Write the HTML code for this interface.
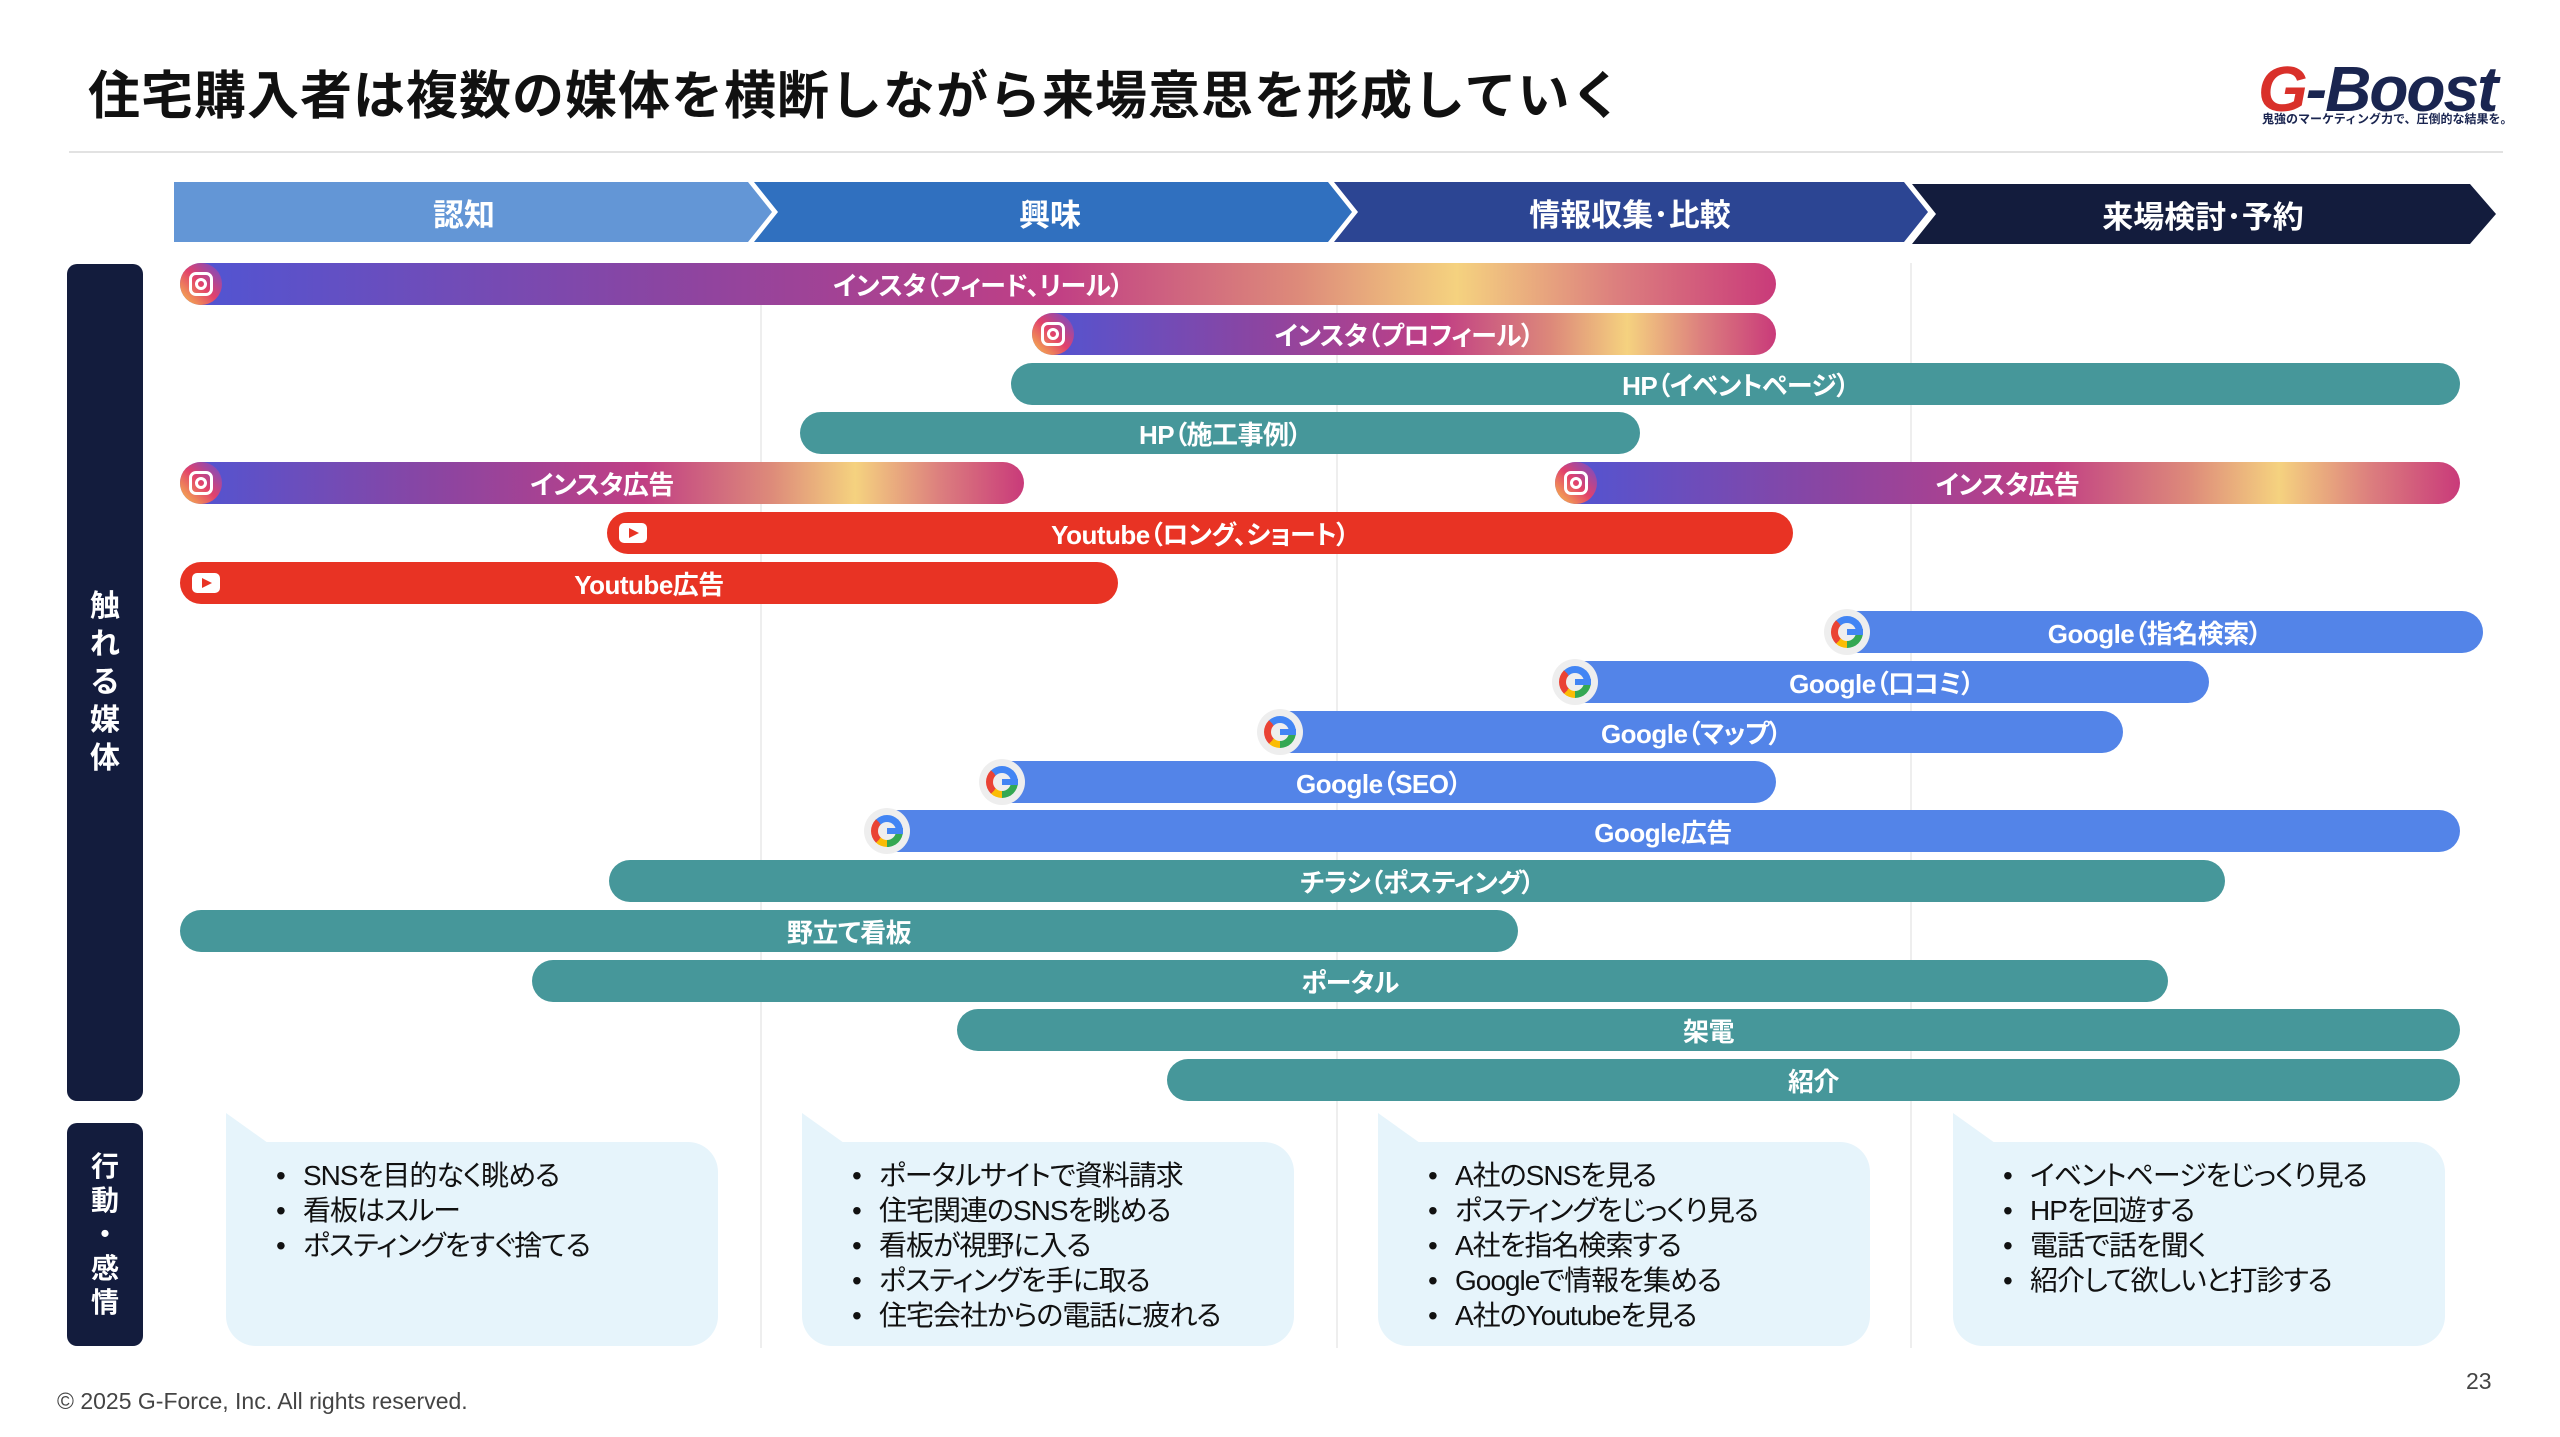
<!DOCTYPE html>
<html><head><meta charset="utf-8"><style>
*{margin:0;padding:0;box-sizing:border-box}
body{width:2560px;height:1437px;background:#fff;position:relative;overflow:hidden;font-family:"Liberation Sans","Noto Sans CJK JP",sans-serif}
.a{position:absolute}
.title{left:88px;top:54px;font-size:52px;font-weight:bold;color:#111;white-space:nowrap;letter-spacing:1px}
.bar{position:absolute;height:42px;border-radius:21px;color:#fff;font-weight:bold;font-size:26px;display:flex;align-items:center;justify-content:center;white-space:nowrap;font-feature-settings:"palt";letter-spacing:-0.5px}
.teal{background:#46979a}
.red{background:#e83324}
.gb{background:#5384e8}
.ig{background:linear-gradient(90deg,#4f55d4 0%,#8a45a2 30%,#c13f84 55%,#dd8a7a 70%,#f5d27f 80%,#dc7f7e 90%,#c93a7a 100%)}
.igi{position:absolute;left:0;top:0;width:42px;height:42px;border-radius:21px;background:linear-gradient(45deg,#f9c34b,#e2416b 50%,#6a4fd0)}
.igi:after{content:"";position:absolute;left:9px;top:9px;width:24px;height:24px;border:3px solid #fff;border-radius:7px;box-sizing:border-box}
.igi:before{content:"";position:absolute;left:15px;top:15px;width:12px;height:12px;border:3px solid #fff;border-radius:50%;box-sizing:border-box;z-index:2}
.yti{position:absolute;left:12px;top:11px;width:28px;height:20px;background:#fff;border-radius:5px}
.yti:after{content:"";position:absolute;left:10px;top:5px;border-left:10px solid #e83324;border-top:5px solid transparent;border-bottom:5px solid transparent}
.gi{position:absolute;left:-2px;top:-2px;width:46px;height:46px;border-radius:50%;background:#eee}
.gi i{position:absolute;left:7px;top:7px;width:32px;height:32px;border-radius:50%;background:conic-gradient(#4285f4 0 25%,#34a853 25% 50%,#fbbc05 50% 62%,#ea4335 62% 88%,#4285f4 88%)}
.gi i:after{content:"";position:absolute;left:7px;top:7px;width:18px;height:18px;border-radius:50%;background:#eee}
.gi b{position:absolute;left:23px;top:20px;width:16px;height:6px;background:#4285f4;z-index:2}
.div{position:absolute;top:263px;width:2px;height:1085px;background:#eeeeee}
.box{position:absolute;top:1142px;width:492px;height:204px;background:#e6f4fb;border-radius:0 30px 30px 30px}
.tail{position:absolute;top:1113px;width:0;height:0;border-left:42px solid #e6f4fb;border-top:30px solid transparent}
.box ul{list-style:none;position:absolute;left:50px;top:16px;font-size:28px;line-height:35px;color:#111;font-feature-settings:"palt";letter-spacing:-1px}
.box li:before{content:"•";display:inline-block;width:27px}
.lbl{position:absolute;left:67px;width:76px;background:#131c3d;border-radius:10px;color:#fff;font-weight:bold;font-size:30px;display:flex;flex-direction:column;align-items:center;justify-content:center;line-height:38px}
.ph{position:absolute;top:182px;height:60px;color:#fff;font-weight:bold;font-size:31px;display:flex;align-items:center;justify-content:center;font-feature-settings:"palt"}
</style></head><body>
<div class="a title">住宅購入者は複数の媒体を横断しながら来場意思を形成していく</div>
<div class="a" style="left:2258px;top:52px;font-size:64px;font-weight:bold;font-style:italic;color:#1a2550;letter-spacing:-2px"><span style="color:#d9302a">G</span>-Boost</div>
<div class="a" style="left:2262px;top:110px;font-size:12px;font-weight:bold;color:#1a2550">鬼強のマーケティング力で、圧倒的な結果を。</div>
<div class="a" style="left:69px;top:151px;width:2434px;height:2px;background:#e2e2e2"></div>

<svg class="a" style="left:0;top:0" width="2560" height="260">
<polygon points="174,182 748,182 772,212 748,242 174,242" fill="#6396d6"/>
<polygon points="754,182 1328,182 1352,212 1328,242 754,242 778,212" fill="#3070bf"/>
<polygon points="1334,182 1904,182 1928,212 1904,242 1334,242 1358,212" fill="#2c4593"/>
<polygon points="1912,184 2470,184 2496,214 2470,244 1912,244 1936,214" fill="#131c3d"/>
</svg>
<div class="ph" style="left:174px;width:580px">認知</div>
<div class="ph" style="left:760px;width:580px">興味</div>
<div class="ph" style="left:1340px;width:580px">情報収集･比較</div>
<div class="ph" style="left:1918px;width:570px;top:184px">来場検討･予約</div>

<div class="div" style="left:760px"></div>
<div class="div" style="left:1336px"></div>
<div class="div" style="left:1910px"></div>

<div class="lbl" style="top:264px;height:837px">触<br>れ<br>る<br>媒<br>体</div>
<div class="lbl" style="top:1123px;height:223px;font-size:28px;line-height:34px">行<br>動<br>・<br>感<br>情</div>

<div class="bar ig" style="left:180px;width:1596px;top:263px"><span class="igi"></span>インスタ（フィード、リール）</div>
<div class="bar ig" style="left:1032px;width:744px;top:313px"><span class="igi"></span>インスタ（プロフィール）</div>
<div class="bar teal" style="left:1011px;width:1449px;top:363px">HP（イベントページ）</div>
<div class="bar teal" style="left:800px;width:840px;top:412px">HP（施工事例）</div>
<div class="bar ig" style="left:180px;width:844px;top:462px"><span class="igi"></span>インスタ広告</div>
<div class="bar ig" style="left:1555px;width:905px;top:462px"><span class="igi"></span>インスタ広告</div>
<div class="bar red" style="left:607px;width:1186px;top:512px"><span class="yti"></span>Youtube（ロング、ショート）</div>
<div class="bar red" style="left:180px;width:938px;top:562px"><span class="yti"></span>Youtube広告</div>
<div class="bar gb" style="left:1826px;width:657px;top:611px"><span class="gi"><i></i><b></b></span>Google（指名検索）</div>
<div class="bar gb" style="left:1554px;width:655px;top:661px"><span class="gi"><i></i><b></b></span>Google（口コミ）</div>
<div class="bar gb" style="left:1259px;width:864px;top:711px"><span class="gi"><i></i><b></b></span>Google（マップ）</div>
<div class="bar gb" style="left:981px;width:795px;top:761px"><span class="gi"><i></i><b></b></span>Google（SEO）</div>
<div class="bar gb" style="left:866px;width:1594px;top:810px"><span class="gi"><i></i><b></b></span>Google広告</div>
<div class="bar teal" style="left:609px;width:1616px;top:860px">チラシ（ポスティング）</div>
<div class="bar teal" style="left:180px;width:1338px;top:910px">野立て看板</div>
<div class="bar teal" style="left:532px;width:1636px;top:960px">ポータル</div>
<div class="bar teal" style="left:957px;width:1503px;top:1009px">架電</div>
<div class="bar teal" style="left:1167px;width:1293px;top:1059px">紹介</div>

<div class="tail" style="left:226px"></div>
<div class="box" style="left:226px"><ul><li>SNSを目的なく眺める</li><li>看板はスルー</li><li>ポスティングをすぐ捨てる</li></ul></div>
<div class="tail" style="left:802px"></div>
<div class="box" style="left:802px"><ul><li>ポータルサイトで資料請求</li><li>住宅関連のSNSを眺める</li><li>看板が視野に入る</li><li>ポスティングを手に取る</li><li>住宅会社からの電話に疲れる</li></ul></div>
<div class="tail" style="left:1378px"></div>
<div class="box" style="left:1378px"><ul><li>A社のSNSを見る</li><li>ポスティングをじっくり見る</li><li>A社を指名検索する</li><li>Googleで情報を集める</li><li>A社のYoutubeを見る</li></ul></div>
<div class="tail" style="left:1953px"></div>
<div class="box" style="left:1953px"><ul><li>イベントページをじっくり見る</li><li>HPを回遊する</li><li>電話で話を聞く</li><li>紹介して欲しいと打診する</li></ul></div>

<div class="a" style="left:57px;top:1388px;font-size:23px;color:#444">© 2025 G-Force, Inc. All rights reserved.</div>
<div class="a" style="left:2466px;top:1368px;font-size:23px;color:#444">23</div>
</body></html>
